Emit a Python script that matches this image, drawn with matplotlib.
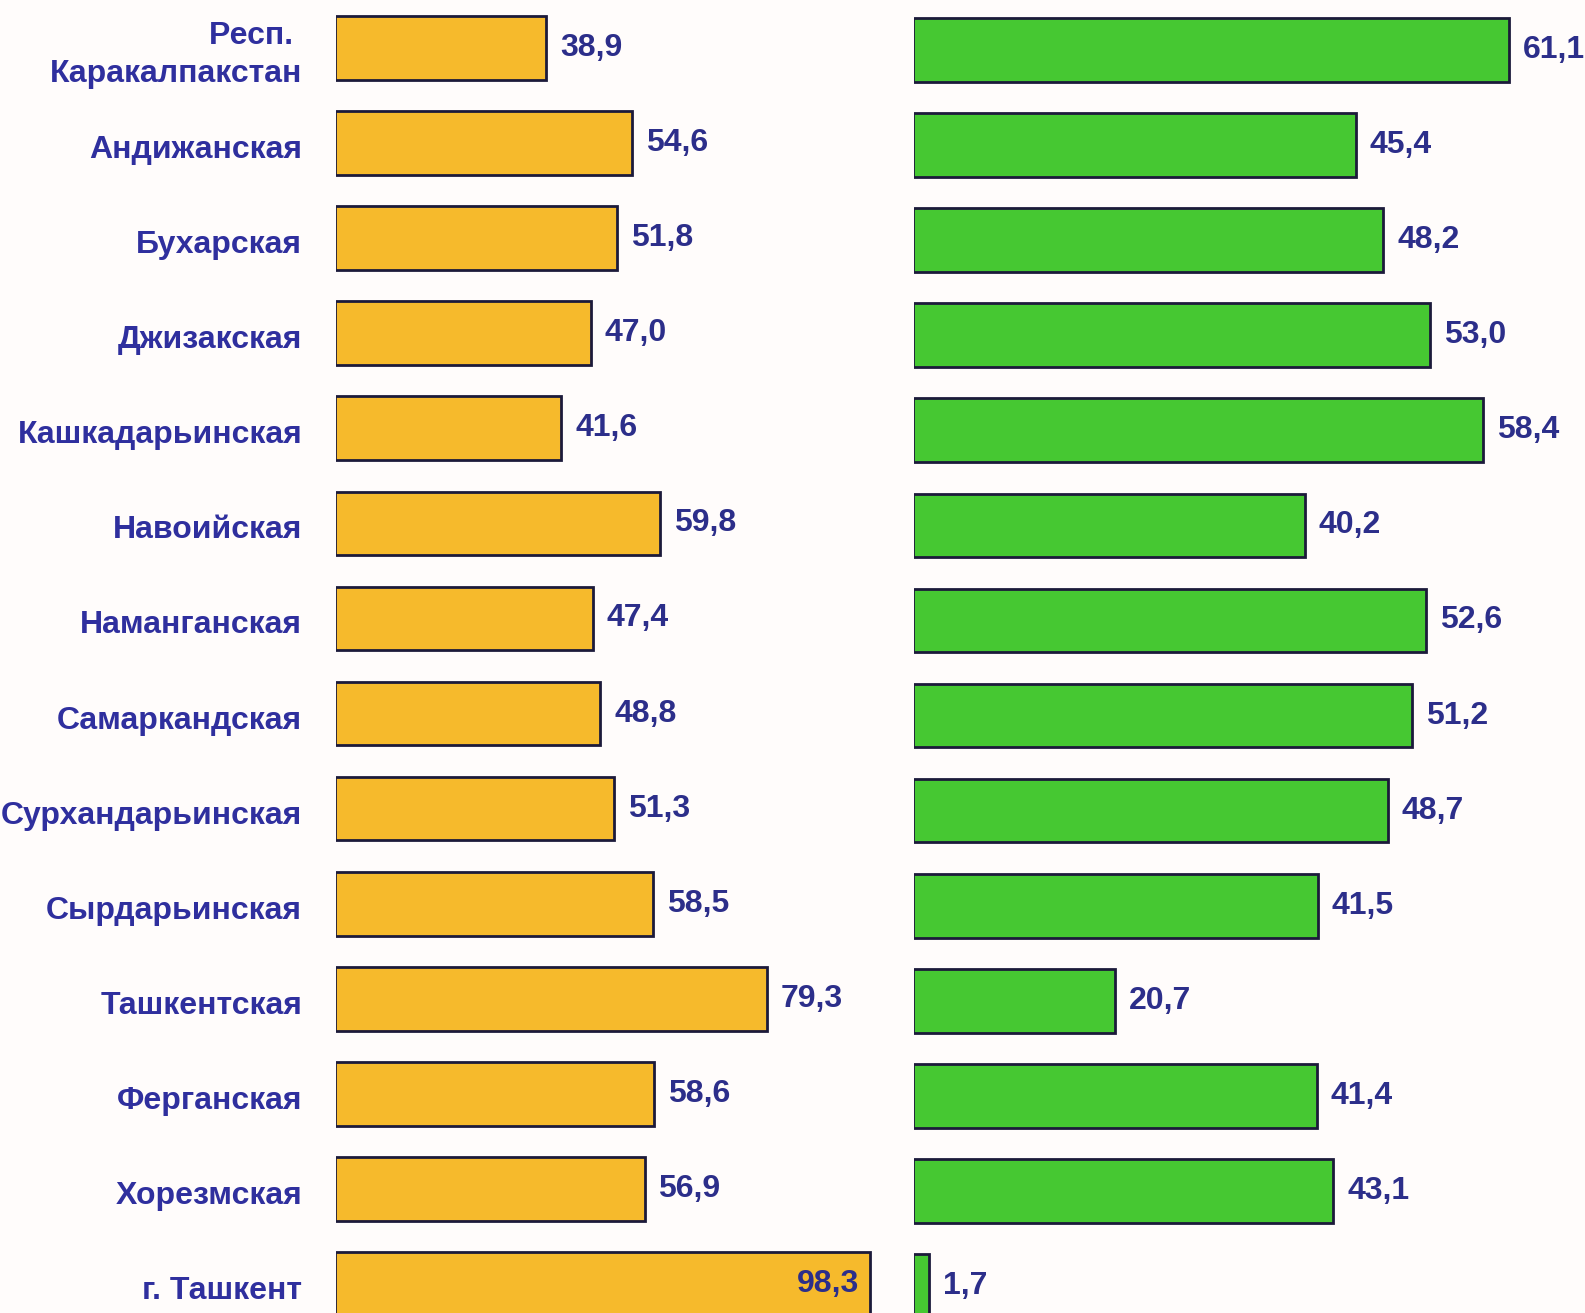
import matplotlib
matplotlib.use("Agg")
import matplotlib.pyplot as plt

categories = ["Респ. \nКаракалпакстан", "Андижанская", "Бухарская", "Джизакская",
              "Кашкадарьинская", "Навоийская", "Наманганская", "Самаркандская",
              "Сурхандарьинская", "Сырдарьинская", "Ташкентская", "Ферганская",
              "Хорезмская", "г. Ташкент"]
left_values = [38.9, 54.6, 51.8, 47.0, 41.6, 59.8, 47.4, 48.8, 51.3, 58.5, 79.3, 58.6, 56.9, 98.3]
right_values = [61.1, 45.4, 48.2, 53.0, 58.4, 40.2, 52.6, 51.2, 48.7, 41.5, 20.7, 41.4, 43.1, 1.7]

def fmt(v):
    return f"{v:.1f}".replace(".", ",")

plt.rcParams['font.family'] = ['Liberation Sans', 'DejaVu Sans']
W, H = 1585, 1313
bg = '#FFFCFB'
orange = '#F6BA2C'
green = '#46C832'
edge = '#1C1A3A'
cat_col = '#2F2F9E'
val_col = '#2C2E8A'

fig = plt.figure(figsize=(W/100, H/100), dpi=100, facecolor=bg)

n = len(categories)
pitch = 95.08
y0 = 48.0
top_lim = -y0 / pitch
bot_lim = (n - 1) + (H - (y0 + (n - 1) * pitch)) / pitch
ys = list(range(n))
clip_px = 1.6

# left axes
lx0 = 334.6
lppu = 5.447
lw = 560
axl = fig.add_axes([(lx0 + clip_px)/W, 0, lw/W, 1])
axl.set_facecolor('none')
axl.set_xlim(clip_px/lppu, (clip_px + lw)/lppu)
axl.set_ylim(bot_lim, top_lim)
axl.barh(ys, left_values, height=0.67, color=orange, edgecolor=edge, linewidth=2)
axl.set_xticks([])
axl.set_yticks([])
for s in axl.spines.values():
    s.set_visible(False)
for i, c in enumerate(categories):
    axl.annotate(c, xy=(0, i), xycoords=('axes fraction', 'data'),
                 xytext=(-24.5, -5), textcoords='offset points',
                 ha='right', va='center', ma='right', linespacing=1.38,
                 fontsize=23, fontweight='bold', color=cat_col, annotation_clip=False)
for i, v in enumerate(left_values):
    if v > 90:
        axl.annotate(fmt(v), (v, i), xytext=(-8, 0), textcoords='offset points',
                     ha='right', va='center', fontsize=23, fontweight='bold', color=val_col)
    else:
        axl.annotate(fmt(v), (v, i), xytext=(10, 0), textcoords='offset points',
                     ha='left', va='center', fontsize=23, fontweight='bold', color=val_col)

# right axes
rx0 = 912.8
rppu = 9.758
rw = W - rx0
axr = fig.add_axes([(rx0 + clip_px)/W, 0, rw/W, 1])
axr.set_facecolor('none')
axr.set_xlim(clip_px/rppu, (clip_px + rw)/rppu)
shift = 2.0 / pitch
axr.set_ylim(bot_lim - shift, top_lim - shift)
axr.barh(ys, right_values, height=0.67, color=green, edgecolor=edge, linewidth=2)
axr.set_xticks([])
axr.set_yticks([])
for s in axr.spines.values():
    s.set_visible(False)
for i, v in enumerate(right_values):
    axr.annotate(fmt(v), (v, i), xytext=(10, 0), textcoords='offset points',
                 ha='left', va='center', fontsize=23, fontweight='bold', color=val_col)

fig.savefig('out.png', dpi=100, facecolor=bg)
